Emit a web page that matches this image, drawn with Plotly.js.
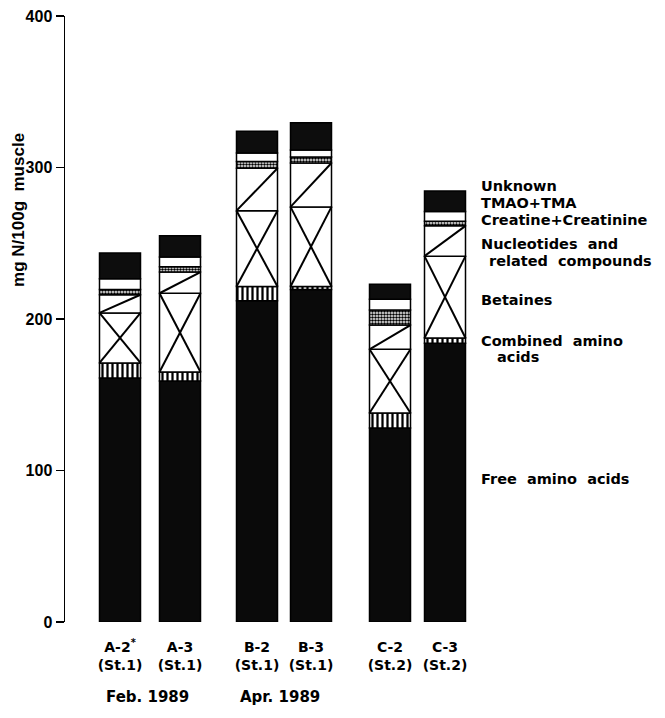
<!DOCTYPE html>
<html><head><meta charset="utf-8">
<script src="https://cdn.plot.ly/plotly-3.0.1.min.js"></script>
<style>body{margin:0;background:#fff}#chart{width:665px;height:718px}</style>
</head><body><div id="chart"></div>
<script>
// ---- data (mg N / 100 g muscle) ----
const samples = ['A-2', 'A-3', 'B-2', 'B-3', 'C-2', 'C-3'];
const stations = ['St.1', 'St.1', 'St.1', 'St.1', 'St.2', 'St.2'];
const periodLabels = ['Feb. 1989', 'Apr. 1989'];
const freeAminoAcids = [161, 159, 212, 219.5, 128, 184];
const combinedAminoAcids = [10, 6, 9.5, 2, 10, 3.5];
const betaines = [33, 52, 50, 52.5, 42, 54];
const nucleotides = [12, 14, 28, 29, 16, 20];
const creatine = [3.5, 3.5, 4.5, 4, 10, 3];
const tmao = [7, 6.5, 5.5, 4.5, 7, 6.5];
const unknown = [17, 14, 14.5, 18, 10, 13.5];
const yTicks = [0, 100, 200, 300, 400];

// ---- layout constants ----
const barPos = [5.5, 11.5, 19.2, 24.6, 32.5, 38.0];
const barW = 4.1;
const FONT = '"Liberation Sans", Arial, sans-serif';
const WIDE = '"DejaVu Sans", sans-serif';

const series = [
  {name: 'Free amino acids', v: freeAminoAcids, color: '#0a0a0a'},
  {name: 'Combined amino acids', v: combinedAminoAcids, color: '#fff', pattern: {shape: '|', fgcolor: '#000', bgcolor: '#fff', size: 5, solidity: 0.45}},
  {name: 'Betaines', v: betaines, color: '#fff'},
  {name: 'Nucleotides and related compounds', v: nucleotides, color: '#fff'},
  {name: 'Creatine+Creatinine', v: creatine, color: '#fff', pattern: {shape: '.', fgcolor: '#000', bgcolor: '#fff', size: 3, solidity: 0.55}},
  {name: 'TMAO+TMA', v: tmao, color: '#fff'},
  {name: 'Unknown', v: unknown, color: '#0d0d0d'}
];

const traces = [];
const bases = [];
let cum = samples.map(() => 0);
series.forEach(s => {
  const base = cum.slice();
  bases.push(base);
  const m = {color: s.color, line: {color: '#000', width: 1.5}};
  if (s.pattern) m.pattern = Object.assign({fillmode: 'replace'}, s.pattern);
  traces.push({type: 'bar', x: barPos, y: s.v, base: base, width: barW, marker: m,
    name: s.name, hoverinfo: 'skip', showlegend: false});
  cum = cum.map((c, i) => c + s.v[i]);
});

// big X across Betaines segment, single diagonal across Nucleotides segment
const lx = [], ly = [];
samples.forEach((_, i) => {
  const L = barPos[i] - barW / 2, R = barPos[i] + barW / 2;
  const b0 = bases[2][i], b1 = b0 + betaines[i];
  lx.push(L, R, null, L, R, null); ly.push(b0, b1, null, b1, b0, null);
  const n0 = bases[3][i], n1 = n0 + nucleotides[i];
  lx.push(L, R, null); ly.push(n0, n1, null);
});
traces.push({type: 'scatter', mode: 'lines', x: lx, y: ly, line: {color: '#000', width: 2},
  hoverinfo: 'skip', showlegend: false, cliponaxis: false});

const tickText = samples.map((s, i) => (i === 0 ? s + '<sup>*</sup>' : s) + '<br>(' + stations[i] + ')');

const labelSpec = [
  ['Unknown', 287.5, 0], ['TMAO+TMA', 276.5, 0], ['Creatine+Creatinine', 265.5, 0],
  ['Nucleotides  and', 249.5, 0], ['related  compounds', 238.5, 8],
  ['Betaines', 212.5, 0], ['Combined  amino', 185.5, 0], ['acids', 175, 16],
  ['Free  amino  acids', 94.5, 0]
];
const annotations = labelSpec.map(([t, y, dx]) => ({
  text: t, xref: 'paper', yref: 'y', x: (479 - 65) / 405, y: y, xanchor: 'left', yanchor: 'middle',
  xshift: dx, showarrow: false, font: {family: WIDE, size: 14.5, color: '#000', weight: 'bold'}
}));
annotations.push({text: periodLabels[0], xref: 'x', yref: 'paper', x: 8.2, y: 0, yshift: -75,
  yanchor: 'middle', showarrow: false, font: {family: WIDE, size: 15, color: '#000', weight: 'bold'}});
annotations.push({text: periodLabels[1], xref: 'x', yref: 'paper', x: 21.5, y: 0, yshift: -75,
  yanchor: 'middle', showarrow: false, font: {family: WIDE, size: 15, color: '#000', weight: 'bold'}});
annotations.push({text: 'mg N/100g  muscle', xref: 'paper', yref: 'y', x: -46 / 405, y: 272,
  textangle: -90, xanchor: 'center', yanchor: 'middle', showarrow: false,
  font: {family: FONT, size: 17, color: '#000', weight: 'bold'}});

const layout = {
  width: 665, height: 718,
  margin: {l: 65, r: 195, t: 16, b: 96},
  paper_bgcolor: '#fff', plot_bgcolor: '#fff',
  barmode: 'overlay',
  showlegend: false,
  xaxis: {range: [0, 40.5], showline: false, showgrid: false, zeroline: false, ticks: '',
    tickmode: 'array', tickvals: barPos, ticktext: tickText, ticklabelstandoff: 15,
    tickfont: {family: WIDE, size: 14, color: '#000', weight: 'bold'}, fixedrange: true},
  yaxis: {range: [0, 400], showline: true, linecolor: '#000', linewidth: 1.5, showgrid: false,
    zeroline: false, ticks: 'outside', ticklen: 8, tickwidth: 1.5, tickcolor: '#000',
    tickmode: 'array', tickvals: yTicks, ticktext: yTicks.map(String),
    tickfont: {family: FONT, size: 16, color: '#000', weight: 'bold'}, fixedrange: true},
  annotations: annotations
};

Plotly.newPlot('chart', traces, layout, {displayModeBar: false, staticPlot: true});
</script></body></html>
